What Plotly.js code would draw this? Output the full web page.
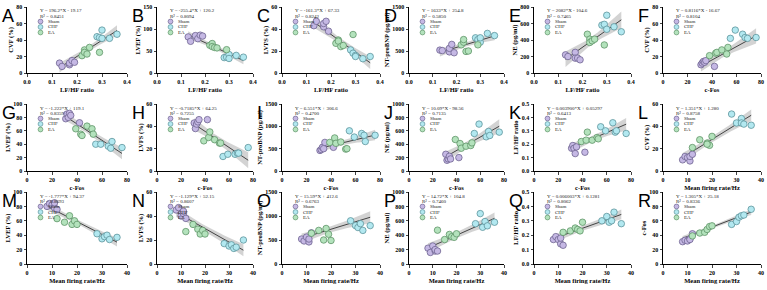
<!DOCTYPE html>
<html><head><meta charset="utf-8">
<script src="https://cdn.plot.ly/plotly-3.0.1.min.js"></script>
<style>html,body{margin:0;padding:0;background:#fff}#chart{width:767px;height:290px}</style>
</head><body><div id="chart"></div>
<script>
// ---------------- DATA ----------------
const groupNames = ['Sham', 'CHF', 'EA'];
// each panel array: 6 Sham, then 6 CHF, then 6 EA
const groupIndex = [0,0,0,0,0,0, 1,1,1,1,1,1, 2,2,2,2,2,2];
const panelLetters = ['A','B','C','D','E','F','G','H','I','J','K','L','M','N','O','P','Q','R'];
const xTitles = ['LF/HF ratio','LF/HF ratio','LF/HF ratio','LF/HF ratio','LF/HF ratio','c-Fos',
                 'c-Fos','c-Fos','c-Fos','c-Fos','c-Fos','Mean firing rate/Hz',
                 'Mean firing rate/Hz','Mean firing rate/Hz','Mean firing rate/Hz','Mean firing rate/Hz','Mean firing rate/Hz','Mean firing rate/Hz'];
const yTitles = ['CVF (%)','LVEF (%)','LVFS (%)','NT-proBNP (pg/ml)','NE (pg/ml)','CVF (%)',
                 'LVEF (%)','LVFS (%)','NT-proBNP (pg/ml)','NE (pg/ml)','LF/HF ratio','CVF (%)',
                 'LVEF (%)','LVFS (%)','NT-proBNP (pg/ml)','NE (pg/ml)','LF/HF ratio','c-Fos'];
const eqTexts = ['Y = 196.2*X - 19.17','Y = -255.4*X + 120.2','Y = -161.3*X + 67.33','Y = 1633*X + 254.8','Y = 2082*X - 104.6','Y = 0.8116*X - 16.67',
                 'Y = -1.222*X + 119.1','Y = -0.7185*X + 64.25','Y = 6.551*X + 306.6','Y = 10.09*X - 98.56','Y = 0.003900*X + 0.05297','Y = 1.351*X + 1.280',
                 'Y = -1.777*X + 94.37','Y = -1.129*X + 52.15','Y = 15.59*X + 412.6','Y = 14.72*X + 104.8','Y = 0.006003*X + 0.1281','Y = 1.305*X + 25.18'];
const r2Values = ['0.8451','0.8094','0.8242','0.5850','0.7465','0.8104',
                  '0.8359','0.7255','0.4700','0.7135','0.6413','0.8758',
                  '0.8693','0.8607','0.6763','0.7460','0.8062','0.8336'];
const slopes = [196.2, -255.4, -161.3, 1633, 2082, 0.8116,
                -1.222, -0.7185, 6.551, 10.09, 0.003900, 1.351,
                -1.777, -1.129, 15.59, 14.72, 0.006003, 1.305];
const intercepts = [-19.17, 120.2, 67.33, 254.8, -104.6, -16.67,
                    119.1, 64.25, 306.6, -98.56, 0.05297, 1.280,
                    94.37, 52.15, 412.6, 104.8, 0.1281, 25.18];

const xA = [0.13,0.14,0.17,0.17,0.18,0.19, 0.28,0.29,0.30,0.30,0.33,0.36, 0.22,0.23,0.23,0.24,0.25,0.29];
const yA = [12,8,10,12,15,13, 44,43,52,42,42,47, 21,28,25,23,31,25];
const xB = [0.13,0.14,0.16,0.17,0.18,0.19, 0.28,0.29,0.30,0.30,0.33,0.36, 0.22,0.23,0.23,0.24,0.25,0.29];
const yB = [82,72,85,78,86,84, 35,36,42,33,40,36, 63,67,60,58,57,53];
const xC = [0.13,0.14,0.17,0.17,0.18,0.19, 0.28,0.29,0.30,0.30,0.33,0.36, 0.22,0.23,0.23,0.24,0.25,0.29];
const yC = [43,47,42,45,47,38, 21,18,16,15,13,15, 27,30,29,24,25,35];
const xD = [0.13,0.14,0.17,0.17,0.18,0.19, 0.28,0.29,0.30,0.30,0.33,0.36, 0.22,0.23,0.23,0.24,0.25,0.29];
const yD = [520,510,480,560,650,460, 800,760,700,800,900,850, 640,700,760,490,500,640];
const xE = [0.13,0.14,0.17,0.17,0.18,0.19, 0.28,0.29,0.30,0.30,0.33,0.36, 0.22,0.23,0.23,0.24,0.25,0.29];
const yE = [220,200,250,180,180,160, 580,590,700,530,560,500, 470,410,370,390,410,340];
const xF = [31,32,33,34,35,42, 55,59,65,67,69,76, 38,43,44,48,52,53];
const yF = [10,12,14,13,15,8, 42,52,47,43,42,43, 21,24,25,28,23,31];
const xG = [31,32,33,34,35,42, 55,59,65,67,68,76, 39,43,44,48,52,53];
const yG = [78,85,80,86,83,72, 40,40,37,34,44,35, 63,55,53,67,63,55];
const xH = [31,32,33,34,35,42, 55,59,65,67,68,76, 39,43,44,48,52,53];
const yH = [43,38,42,44,46,46, 13,15,15,16,16,21, 27,30,35,28,25,25];
const xI = [31,32,33,34,35,42, 55,59,65,67,68,76, 39,43,44,48,52,53];
const yI = [460,480,530,500,640,530, 900,760,840,800,660,800, 640,740,620,650,490,500];
const xJ = [31,32,33,34,35,42, 55,59,65,67,68,76, 39,43,44,48,52,53];
const yJ = [250,160,180,220,180,200, 560,700,510,590,530,580, 470,410,340,370,380,420];
const xK = [31,32,33,34,35,42, 55,59,65,67,68,76, 39,43,44,48,52,53];
const yK = [0.17,0.19,0.17,0.13,0.18,0.14, 0.33,0.30,0.36,0.29,0.30,0.28, 0.22,0.23,0.29,0.23,0.25,0.24];
const xL = [8,9,10,11,11,12, 28,30,32,32,33,36, 12,15,18,19,20,18];
const yL = [10,13,12,9,13,15, 51,43,47,43,42,41, 21,28,25,23,31,24];
const xM = [8,9,10,11,11,12, 28,30,31,32,33,36, 12,15,17,18,19,20];
const yM = [80,84,82,78,85,76, 42,35,38,40,34,37, 63,58,67,55,60,55];
const xN = [8,9,10,11,11,12, 28,30,31,32,33,36, 12,15,17,18,19,20];
const yN = [45,47,40,42,44,38, 17,15,16,13,14,20, 27,33,29,25,28,25];
const xO = [8,9,10,11,11,12, 28,30,31,32,33,36, 12,15,17,18,19,20];
const yO = [520,480,560,460,520,650, 900,800,760,840,700,800, 640,700,500,740,620,490];
const xP = [8,9,10,11,11,12, 28,30,31,32,33,36, 12,15,17,18,19,20];
const yP = [220,160,250,180,200,180, 560,700,510,590,530,580, 470,340,410,380,370,420];
const xQ = [8,9,10,11,11,12, 28,30,31,32,33,36, 12,15,17,18,19,20];
const yQ = [0.17,0.19,0.17,0.14,0.18,0.13, 0.30,0.33,0.29,0.30,0.36,0.28, 0.22,0.23,0.25,0.24,0.23,0.29];
const xR = [8,9,10,11,11,12, 28,30,31,32,33,36, 12,15,17,18,19,20];
const yR = [31,33,32,35,34,42, 55,59,65,67,68,76, 39,43,44,48,52,53];

const panelX = [xA,xB,xC,xD,xE,xF,xG,xH,xI,xJ,xK,xL,xM,xN,xO,xP,xQ,xR];
const panelY = [yA,yB,yC,yD,yE,yF,yG,yH,yI,yJ,yK,yL,yM,yN,yO,yP,yQ,yR];

// ---------------- AXIS SETTINGS ----------------
const xRange = [[0,0.4,0.1],[0,0.4,0.1],[0,0.4,0.1],[0,0.4,0.1],[0,0.4,0.1],[0,80,20],
                [0,80,20],[0,80,20],[0,80,20],[0,80,20],[0,80,20],[0,40,10],
                [0,40,10],[0,40,10],[0,40,10],[0,40,10],[0,40,10],[0,40,10]];
const yRange = [[0,80,20],[0,150,50],[0,60,20],[0,1500,500],[0,800,200],[0,80,20],
                [0,100,20],[0,60,20],[0,1500,500],[0,1000,200],[0,0.5,0.1],[0,60,20],
                [0,100,20],[0,60,20],[0,1500,500],[0,1000,200],[0,0.5,0.1],[0,100,20]];

// ---------------- STYLE ----------------
const W = 767, H = 290;
const colL = [27,157,282,409,534,663];
const colR = [127,253,380,504,631,761];
const rowT = [7,104,192];
const rowB = [73,171,264];
const fills = ['#c5b8e4','#b2e8f0','#b3e2bc'];
const edges = ['#6e6590','#5e949c','#5f9468'];
const serif = 'Liberation Serif, Times New Roman, serif';

const traces = [];
const layout = {
  width: W, height: H, margin: {l:0,r:0,t:0,b:0},
  paper_bgcolor: '#fff', plot_bgcolor: '#fff', showlegend: false,
  annotations: [], shapes: []
};

function px2x(p){ return p / W; }
function px2y(p){ return 1 - p / H; }

for (let i = 0; i < 18; i++) {
  const r = Math.floor(i / 6), c = i % 6;
  const k = i + 1;
  const xa = 'x' + (k === 1 ? '' : k), ya = 'y' + (k === 1 ? '' : k);
  const xs = panelX[i], ys = panelY[i];
  const b = slopes[i], a = intercepts[i];

  // confidence band from residuals around the fitted line
  const n = xs.length;
  const mx = xs.reduce((s,v)=>s+v,0)/n;
  const sxx = xs.reduce((s,v)=>s+(v-mx)*(v-mx),0);
  const sse = xs.reduce((s,v,j)=>s+Math.pow(ys[j]-(a+b*v),2),0);
  const se = Math.sqrt(sse/(n-2));
  const t = 2.12;
  const xmin = Math.min(...xs), xmax = Math.max(...xs);
  const bx = [], lo = [], hi = [], ln = [];
  for (let j = 0; j <= 40; j++) {
    const xv = xmin + (xmax - xmin) * j / 40;
    const yh = a + b * xv;
    const h = t * se * Math.sqrt(1/n + (xv-mx)*(xv-mx)/sxx);
    bx.push(xv); lo.push(yh - h); hi.push(yh + h); ln.push(yh);
  }
  traces.push({x: bx, y: lo, xaxis: xa, yaxis: ya, mode: 'lines', line: {width: 0, color: 'rgba(0,0,0,0)'}, hoverinfo: 'skip'});
  traces.push({x: bx, y: hi, xaxis: xa, yaxis: ya, mode: 'lines', line: {width: 0, color: 'rgba(0,0,0,0)'}, fill: 'tonexty', fillcolor: 'rgba(140,140,140,0.38)', hoverinfo: 'skip'});
  traces.push({x: bx, y: ln, xaxis: xa, yaxis: ya, mode: 'lines', line: {width: 0.9, color: '#333'}, hoverinfo: 'skip'});

  for (let g = 0; g < 3; g++) {
    const gx = [], gy = [];
    xs.forEach((v,j)=>{ if (groupIndex[j] === g) { gx.push(v); gy.push(ys[j]); } });
    traces.push({x: gx, y: gy, xaxis: xa, yaxis: ya, mode: 'markers', name: groupNames[g],
      cliponaxis: false,
      marker: {size: 6.5, color: fills[g], line: {width: 0.8, color: edges[g]}}});
  }

  const tf = {family: serif, size: 6, color: '#000', weight: 'bold'};
  const tt = {family: serif, size: 6.5, color: '#000', weight: 'bold'};
  const xr = xRange[i], yr = yRange[i];
  layout['xaxis' + (k === 1 ? '' : k)] = {
    domain: [px2x(colL[c]), px2x(colR[c])], anchor: ya, range: [xr[0], xr[1]],
    tick0: 0, dtick: xr[2], tickformat: xr[2] < 1 ? '.1f' : '',
    showline: true, linecolor: '#000', linewidth: 1, ticks: 'outside', ticklen: 2.5, tickwidth: 1,
    showgrid: false, zeroline: false, tickfont: tf, fixedrange: true,
    title: {text: xTitles[i], font: tt, standoff: 3}
  };
  layout['yaxis' + (k === 1 ? '' : k)] = {
    domain: [px2y(rowB[r]), px2y(rowT[r])], anchor: xa, range: [yr[0], yr[1]],
    tick0: 0, dtick: yr[2], tickformat: yr[2] < 1 ? '.1f' : '',
    showline: true, linecolor: '#000', linewidth: 1, ticks: 'outside', ticklen: 2.5, tickwidth: 1,
    showgrid: false, zeroline: false, tickfont: tf, fixedrange: true,
    title: {text: yTitles[i], font: tt, standoff: 2}
  };

  // panel letter
  layout.annotations.push({text: panelLetters[i], xref: 'paper', yref: 'paper',
    x: px2x(colL[c] - 27), y: px2y(rowT[r] - 3), xanchor: 'left', yanchor: 'top', showarrow: false,
    font: {family: 'Liberation Sans, Arial, sans-serif', size: 18, color: '#000'}});
  // equation text
  const ef = {family: serif, size: 5, color: '#222'};
  const left = colL[c], top = rowT[r];
  layout.annotations.push({text: eqTexts[i], xref: 'paper', yref: 'paper', x: px2x(left + 11), y: px2y(top + 4),
    xanchor: 'left', yanchor: 'middle', showarrow: false, font: ef});
  layout.annotations.push({text: 'R² = ' + r2Values[i], xref: 'paper', yref: 'paper', x: px2x(left + 11), y: px2y(top + 9.5),
    xanchor: 'left', yanchor: 'middle', showarrow: false, font: ef});
  // legend keys
  for (let g = 0; g < 3; g++) {
    const cy = top + 14.5 + g * 5.5;
    layout.shapes.push({type: 'circle', xref: 'paper', yref: 'paper', xsizemode: 'pixel', ysizemode: 'pixel',
      xanchor: px2x(left + 13.5), yanchor: px2y(cy), x0: -2.4, x1: 2.4, y0: -2.4, y1: 2.4,
      fillcolor: fills[g], line: {color: edges[g], width: 0.7}});
    layout.annotations.push({text: groupNames[g], xref: 'paper', yref: 'paper', x: px2x(left + 19), y: px2y(cy),
      xanchor: 'left', yanchor: 'middle', showarrow: false, font: ef});
  }
}

Plotly.newPlot('chart', traces, layout, {staticPlot: true, displayModeBar: false});
</script>
</body></html>
